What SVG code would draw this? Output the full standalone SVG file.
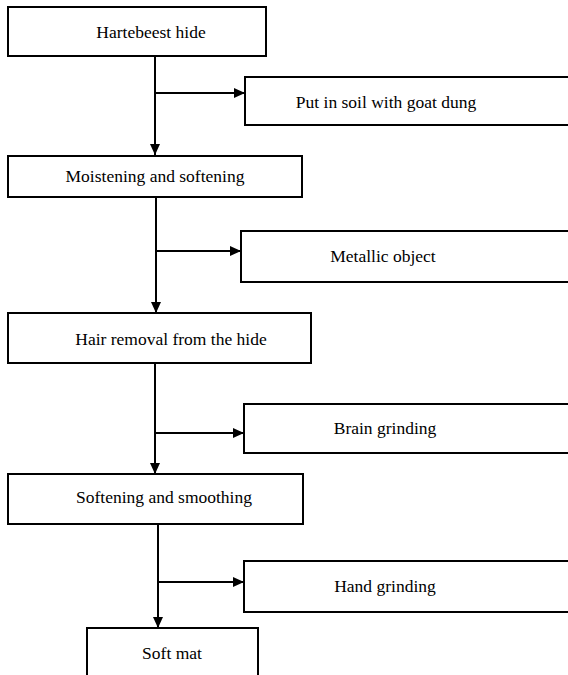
<svg xmlns="http://www.w3.org/2000/svg" width="568" height="675" viewBox="0 0 568 675">
<style>
.box{fill:#fff;stroke:#000;stroke-width:2}
.lbl{font-size:17.5px;fill:#000;text-anchor:middle}
.con{stroke:#000;stroke-width:2;fill:none}
</style>
<defs>
<marker id="ah" markerUnits="userSpaceOnUse" markerWidth="12" markerHeight="12" viewBox="0 0 12 12" refX="11" refY="6" orient="auto">
<path d="M0,1 L11,6 L0,11 Z" fill="#000"/>
</marker>
</defs>
<rect width="568" height="675" fill="#fff"/>
<g id="connectors">
<line class="con" x1="155" y1="56" x2="155" y2="155" marker-end="url(#ah)"/>
<line class="con" x1="155" y1="93" x2="245" y2="93" marker-end="url(#ah)"/>
<line class="con" x1="156" y1="197" x2="156" y2="313" marker-end="url(#ah)"/>
<line class="con" x1="156" y1="251" x2="241" y2="251" marker-end="url(#ah)"/>
<line class="con" x1="155" y1="363" x2="155" y2="474" marker-end="url(#ah)"/>
<line class="con" x1="155" y1="433" x2="244" y2="433" marker-end="url(#ah)"/>
<line class="con" x1="158" y1="524" x2="158" y2="628" marker-end="url(#ah)"/>
<line class="con" x1="158" y1="582" x2="244" y2="582" marker-end="url(#ah)"/>
</g>
<g font-family="'Liberation Serif', 'DejaVu Serif', serif">
<g id="n1"><rect class="box" x="8" y="7" width="258" height="49"/><text class="lbl" x="151" y="38">Hartebeest hide</text></g>
<g id="n2"><rect class="box" x="245" y="77" width="330" height="48"/><text class="lbl" x="386" y="108">Put in soil with goat dung</text></g>
<g id="n3"><rect class="box" x="8" y="156" width="294" height="41"/><text class="lbl" x="155" y="182">Moistening and softening</text></g>
<g id="n4"><rect class="box" x="241" y="231" width="335" height="51"/><text class="lbl" x="383" y="262">Metallic object</text></g>
<g id="n5"><rect class="box" x="8" y="313" width="303" height="50"/><text class="lbl" x="171" y="345">Hair removal from the hide</text></g>
<g id="n6"><rect class="box" x="244" y="404" width="332" height="49"/><text class="lbl" x="385" y="434">Brain grinding</text></g>
<g id="n7"><rect class="box" x="8" y="474" width="295" height="50"/><text class="lbl" x="164" y="503">Softening and smoothing</text></g>
<g id="n8"><rect class="box" x="244" y="561" width="332" height="51"/><text class="lbl" x="385" y="592">Hand grinding</text></g>
<g id="n9"><rect class="box" x="87" y="628" width="171" height="60"/><text class="lbl" x="172" y="659">Soft mat</text></g>
</g>
</svg>
